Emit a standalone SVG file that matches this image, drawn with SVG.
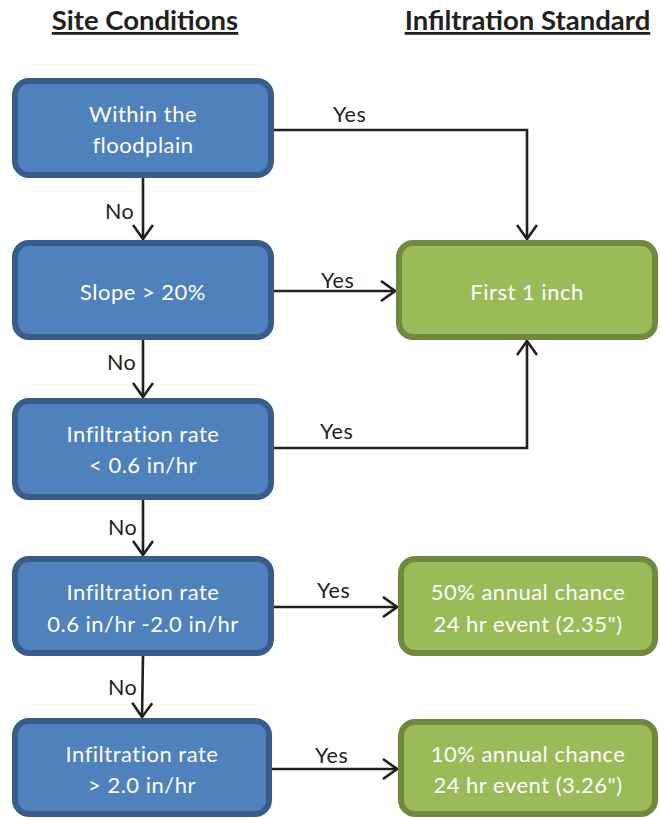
<svg xmlns="http://www.w3.org/2000/svg" width="660" height="818" viewBox="0 0 660 818">
<defs>
<style>
.hdr{font-family:Lato,"Open Sans","Liberation Sans",sans-serif;font-weight:bold;font-size:27.5px;fill:#231f20;text-anchor:middle;text-decoration:underline}
.bx{fill:#4f81bd;stroke:#385d8a;stroke-width:6}
.gx{fill:#9bbb59;stroke:#71893f;stroke-width:6}
.t{font-family:Lato,"Open Sans","Liberation Sans",sans-serif;font-size:22px;fill:#ffffff;text-anchor:middle;letter-spacing:0.5px}
.lbl{font-family:Lato,"Open Sans","Liberation Sans",sans-serif;font-size:21.5px;fill:#231f20;letter-spacing:0.5px}
.c{fill:none;stroke:#231f20;stroke-width:2.6}
</style>
<marker id="ah" viewBox="0 0 16 22" refX="15" refY="11" markerWidth="16" markerHeight="22" markerUnits="userSpaceOnUse" orient="auto">
<path d="M1,1 L15,11 L1,21" fill="none" stroke="#231f20" stroke-width="2.6"/>
</marker>
</defs>
<rect width="660" height="818" fill="#ffffff"/>
<text class="hdr" x="145" y="30">Site Conditions</text>
<text class="hdr" x="527.5" y="30">Infiltration Standard</text>

<g id="connectors">
<path class="c" d="M274,130 H527 V239" marker-end="url(#ah)"/>
<path class="c" d="M143,178 V239" marker-end="url(#ah)"/>
<path class="c" d="M274,291 H395" marker-end="url(#ah)"/>
<path class="c" d="M143,340 V397" marker-end="url(#ah)"/>
<path class="c" d="M274,448 H527 V341" marker-end="url(#ah)"/>
<path class="c" d="M143,500 V555" marker-end="url(#ah)"/>
<path class="c" d="M274,607 H397" marker-end="url(#ah)"/>
<path class="c" d="M143,656 L142,717" marker-end="url(#ah)"/>
<path class="c" d="M272,769 H397" marker-end="url(#ah)"/>
<text class="lbl" x="333" y="122">Yes</text>
<text class="lbl" x="105" y="219">No</text>
<text class="lbl" x="321" y="288">Yes</text>
<text class="lbl" x="107" y="370">No</text>
<text class="lbl" x="320" y="439">Yes</text>
<text class="lbl" x="108" y="535">No</text>
<text class="lbl" x="317" y="598">Yes</text>
<text class="lbl" x="108" y="695">No</text>
<text class="lbl" x="315" y="763">Yes</text>
</g>

<g id="n1"><rect class="bx" x="15" y="81" width="256" height="94" rx="14"/>
<text class="t" x="143" y="122">Within the</text><text class="t" x="143" y="153">floodplain</text></g>
<g id="n2"><rect class="bx" x="15" y="243" width="256" height="94" rx="14"/>
<text class="t" x="143" y="300">Slope &gt; 20%</text></g>
<g id="n3"><rect class="bx" x="15" y="401" width="256" height="96" rx="14"/>
<text class="t" x="143" y="442">Infiltration rate</text><text class="t" x="143" y="473">&lt; 0.6 in/hr</text></g>
<g id="n4"><rect class="bx" x="15" y="559" width="256" height="94" rx="14"/>
<text class="t" x="143" y="600">Infiltration rate</text><text class="t" x="143" y="632">0.6 in/hr -2.0 in/hr</text></g>
<g id="n5"><rect class="bx" x="15" y="721" width="254" height="93" rx="14"/>
<text class="t" x="142" y="762">Infiltration rate</text><text class="t" x="142" y="793">&gt; 2.0 in/hr</text></g>
<g id="g1"><rect class="gx" x="399" y="243" width="256" height="94" rx="14"/>
<text class="t" x="527" y="300">First 1 inch</text></g>
<g id="g2"><rect class="gx" x="401" y="559" width="254" height="94" rx="14"/>
<text class="t" x="528" y="600">50% annual chance</text><text class="t" x="528" y="632">24 hr event (2.35")</text></g>
<g id="g3"><rect class="gx" x="401" y="722" width="254" height="92" rx="14"/>
<text class="t" x="528" y="762">10% annual chance</text><text class="t" x="528" y="793">24 hr event (3.26")</text></g>
</svg>
